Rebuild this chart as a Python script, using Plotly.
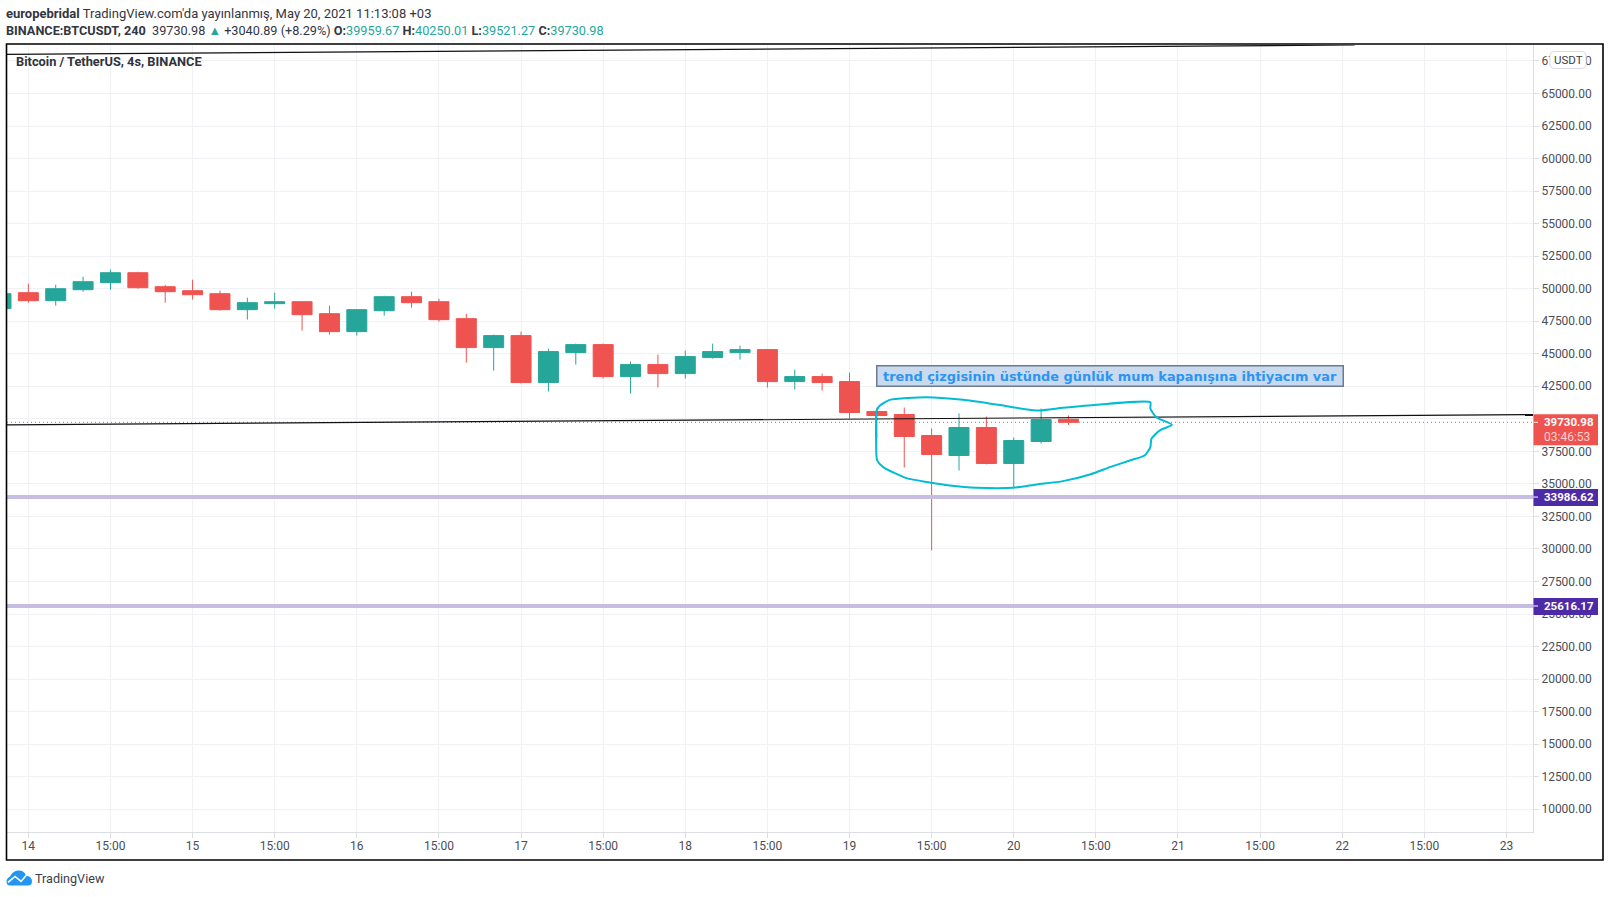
import plotly.graph_objects as go

# ---------- data ----------
candle_index = list(range(-1, 39))
opens = [48463, 49691, 49077, 49921, 50458, 51226, 50151, 49844, 49614, 48386, 48847, 49000, 48079, 46698, 48310,
         49384, 49000, 47696, 45471, 46392, 42785, 45087, 45701, 43245, 44166, 43475, 44703, 45087, 45317, 42861,
         43245, 42861, 40559, 40329, 38717, 37182, 39331, 36568, 38257, 39959.67]
highs = [49614, 50382, 50305, 50919, 51456, 51302, 50305, 50688, 49844, 49307, 49691, 49000, 48693, 48386, 49461,
         49768, 49230, 48080, 46468, 46698, 45394, 45778, 45778, 44396, 44933, 45240, 45778, 45624, 45317, 43782,
         43475, 43552, 40866, 40866, 39254, 40405, 40175, 38564, 40789, 40250.01]
lows = [48463, 48924, 48693, 49768, 49921, 49998, 48924, 49154, 48310, 47619, 48463, 46775, 46468, 46391, 47926,
        48540, 47465, 44320, 43706, 42708, 42094, 44166, 43092, 41941, 42401, 43092, 44626, 44550, 42401, 42248,
        42171, 40022, 38487, 36261, 29890, 36031, 36492, 34727, 38103, 39521.27]
closes = [49614, 49077, 49998, 50535, 51226, 50075, 49768, 49537, 48386, 48924, 49000, 48003, 46698, 48386, 49384,
          48924, 47619, 45471, 46392, 42785, 45164, 45701, 43245, 44166, 43475, 44780, 45164, 45317, 42861, 43245,
          42785, 40482, 40252, 38640, 37259, 39331, 36568, 38333, 39945, 39730.98]

y_ticks = [10000 + 2500 * k for k in range(24)]
y_hidden_ticks = [40000]
x_ticks = list(range(0, 55, 3))
x_labels = ["14", "15:00", "15", "15:00", "16", "15:00", "17", "15:00", "18", "15:00",
            "19", "15:00", "20", "15:00", "21", "15:00", "22", "15:00", "23"]

support_levels = [33986.62, 25616.17]
last_price = 39730.98
countdown = "03:46:53"

trend1_x = [-0.78, 48.45]
trend1_y = [68004, 68724]
trend2_x = [-0.78, 54.97]
trend2_y = [39537, 40328]

curve_x = [40.99, 39.02, 37.80, 36.83, 35.37, 34.15, 32.81, 31.47, 31.11, 30.99, 30.97, 31.01, 31.23, 32.08, 32.93,
           33.66, 34.64, 35.98, 36.83, 37.80, 38.78, 39.51, 40.24, 40.78, 40.99, 41.03, 41.33, 41.78, 41.21, 40.99, 40.99]
curve_y = [41272, 41072, 40842, 40635, 41095, 41456, 41656, 41456, 41019, 40635, 38540, 36797, 36283, 35439, 35109,
           34879, 34702, 34702, 34955, 35209, 35723, 36283, 36797, 37181, 37818, 38463, 39100, 39537, 40121, 40788, 41272]

# ---------- layout helpers ----------
W, H = 1610, 897
L, R, T, B = 7, 1533, 44.5, 832.5
FONT = "Roboto"
GREEN, RED = "#26a69a", "#ef5350"
PURPLE = "#4e2ba6"
LEVEL = "#c7bde2"
TEXT = "#4a4e58"


def px(x):
    return (x - L) / (R - L)


def py(y):
    return (B - y) / (B - T)


fig = go.Figure()

fig.add_trace(go.Scatter(x=[trend2_x[0], trend2_x[1]], y=[last_price, last_price], mode="lines",
                         line=dict(color=RED, width=1, dash="1px 3px"), hoverinfo="skip"))
fig.add_trace(go.Candlestick(x=candle_index, open=opens, high=highs, low=lows, close=closes,
                             increasing=dict(line=dict(color=GREEN, width=1), fillcolor=GREEN),
                             decreasing=dict(line=dict(color=RED, width=1), fillcolor=RED),
                             whiskerwidth=0))
for lvl in support_levels:
    fig.add_trace(go.Scatter(x=[trend2_x[0], trend2_x[1]], y=[lvl, lvl], mode="lines",
                             line=dict(color=LEVEL, width=4), hoverinfo="skip"))
fig.add_trace(go.Scatter(x=trend1_x, y=trend1_y, mode="lines", line=dict(color="#111111", width=1.2), hoverinfo="skip"))
fig.add_trace(go.Scatter(x=trend2_x, y=trend2_y, mode="lines", line=dict(color="#111111", width=1.2), hoverinfo="skip"))
fig.add_trace(go.Scatter(x=curve_x, y=curve_y, mode="lines",
                         line=dict(color="#00bcd4", width=2, shape="spline", smoothing=0.6), hoverinfo="skip"))

shapes = []
annotations = []


def text(x, y, s, size=12, color=TEXT, anchor="left", family=FONT, **kw):
    annotations.append(dict(xref="paper", yref="paper", x=px(x), y=py(y), text=s, showarrow=False, xanchor=anchor,
                            yanchor="middle", font=dict(family=family, size=size, color=color),
                            borderpad=0, **kw))


# outer frame
shapes.append(dict(type="rect", xref="paper", yref="paper", x0=px(6.5), x1=px(1603), y0=py(860.5), y1=py(43.5),
                   line=dict(color="#000000", width=1.6), fillcolor="rgba(0,0,0,0)", layer="above"))

# price labels on the axis
for price, color, up, down in [(last_price, RED, 8, -23), (support_levels[0], PURPLE, 8, -9), (support_levels[1], PURPLE, 8, -9)]:
    shapes.append(dict(type="rect", xref="paper", yref="y", ysizemode="pixel", yanchor=price, y0=down, y1=up,
                       x0=px(1533.5), x1=px(1598), fillcolor=color, line=dict(width=0), layer="above"))
    shapes.append(dict(type="line", xref="paper", yref="y", x0=px(1533.5), x1=px(1538), y0=price, y1=price,
                       line=dict(color="#ffffff", width=1), layer="above"))
    annotations.append(dict(xref="paper", yref="y", x=px(1541.5), y=price, text=f"<b>{price:.2f}</b>", showarrow=False,
                            xanchor="left", yanchor="middle", font=dict(family=FONT, size=11.5, color="#ffffff")))
annotations.append(dict(xref="paper", yref="y", x=px(1541.5), y=last_price, yshift=-15, text=countdown, showarrow=False,
                        xanchor="left", yanchor="middle", font=dict(family=FONT, size=12, color="#fbd0cf")))

# USDT badge
bx0, bx1, by0, by1, r = 1550, 1586, 51, 68, 4
shapes.append(dict(type="path", xref="paper", yref="paper", layer="above", fillcolor="#ffffff",
                   line=dict(color="#d9dbe8", width=1),
                   path=f"M{px(bx0 + r)},{py(by0)} L{px(bx1 - r)},{py(by0)} Q{px(bx1)},{py(by0)} {px(bx1)},{py(by0 + r)} "
                        f"L{px(bx1)},{py(by1 - r)} Q{px(bx1)},{py(by1)} {px(bx1 - r)},{py(by1)} "
                        f"L{px(bx0 + r)},{py(by1)} Q{px(bx0)},{py(by1)} {px(bx0)},{py(by1 - r)} "
                        f"L{px(bx0)},{py(by0 + r)} Q{px(bx0)},{py(by0)} {px(bx0 + r)},{py(by0)} Z"))
text(1568, 59.5, "USDT", size=11.5, color="#3a3e48", anchor="center")

# headers
text(5, 12.5, "<b>europebridal</b> TradingView.com'da yayınlanmış, May 20, 2021 11:13:08 +03", size=13, color="#33363f")
g = lambda s: f'<span style="color:{GREEN}">{s}</span>'
text(5, 30, f"<b>BINANCE:BTCUSDT, 240</b>  39730.98 {g('▲')} +3040.89 (+8.29%) <b>O:</b>{g('39959.67')} "
            f"<b>H:</b>{g('40250.01')} <b>L:</b>{g('39521.27')} <b>C:</b>{g('39730.98')}", size=12.7, color="#33363f")
text(14.5, 60.7, "<b>Bitcoin / TetherUS, 4s, BINANCE</b>", size=12.8, color="#30333b")

# note
annotations.append(dict(xref="paper", yref="paper", x=px(875.5), y=py(376.3), xanchor="left", yanchor="middle",
                        text="<b>trend çizgisinin üstünde günlük mum kapanışına ihtiyacım var</b>", showarrow=False,
                        font=dict(family="DejaVu Sans", size=12.9, color="#2b95f2"), bgcolor="#c9d9ee", bordercolor="#687b93",
                        borderwidth=1.5, borderpad=0, width=465, height=19, align="center"))

# logo
shapes.append(dict(type="path", xref="paper", yref="paper", layer="above", fillcolor="#2196f3", line=dict(width=0),
                   path=f"M{px(6.5)},{py(882)} Q{px(6.5)},{py(879)} {px(10)},{py(877)} Q{px(13)},{py(871)} {px(19)},{py(871)} "
                        f"Q{px(24)},{py(871)} {px(26)},{py(876)} Q{px(32)},{py(877)} {px(32)},{py(882)} Q{px(32)},{py(886)} {px(28)},{py(886)} "
                        f"L{px(10)},{py(886)} Q{px(6.5)},{py(886)} {px(6.5)},{py(882)} Z"))
shapes.append(dict(type="path", xref="paper", yref="paper", layer="above", line=dict(color="#ffffff", width=1.6),
                   path=f"M{px(8)},{py(883)} L{px(15)},{py(877)} L{px(21)},{py(882)} L{px(27)},{py(875)}"))
text(33.5, 879.5, "TradingView", size=12.6, color="#3a3e48")

fig.update_layout(
    width=W, height=H, autosize=False,
    margin=dict(l=L, r=W - R, t=T, b=H - B, pad=0),
    paper_bgcolor="#ffffff", plot_bgcolor="#ffffff",
    showlegend=False, boxgap=0.27, boxgroupgap=0, hovermode=False,
    font=dict(family=FONT, size=12, color=TEXT),
    shapes=shapes, annotations=annotations,
    xaxis=dict(range=[-0.78, 54.97], tickmode="array", tickvals=x_ticks, ticktext=x_labels, rangeslider=dict(visible=False),
               showgrid=True, gridcolor="#f0f1f4", gridwidth=1, zeroline=False, showline=True, linecolor="#dcdee4", linewidth=1,
               ticks="outside", ticklen=5, tickcolor="#dcdee4", ticklabelstandoff=-2,
               tickfont=dict(family=FONT, size=12, color=TEXT)),
    yaxis=dict(range=[8248, 68724], side="right", tickmode="array", tickvals=y_ticks,
               ticktext=["" if v in y_hidden_ticks else f"{v:.2f}" for v in y_ticks],
               showgrid=True, gridcolor="#f0f1f4", gridwidth=1, zeroline=False, showline=True, linecolor="#dcdee4", linewidth=1,
               ticks="outside", ticklen=5, tickcolor="#dcdee4", tickfont=dict(family=FONT, size=12, color=TEXT)),
)

fig.write_html("out.html", config=dict(displayModeBar=False),
               post_script="document.body.style.margin='0';document.body.style.overflow='hidden';")
